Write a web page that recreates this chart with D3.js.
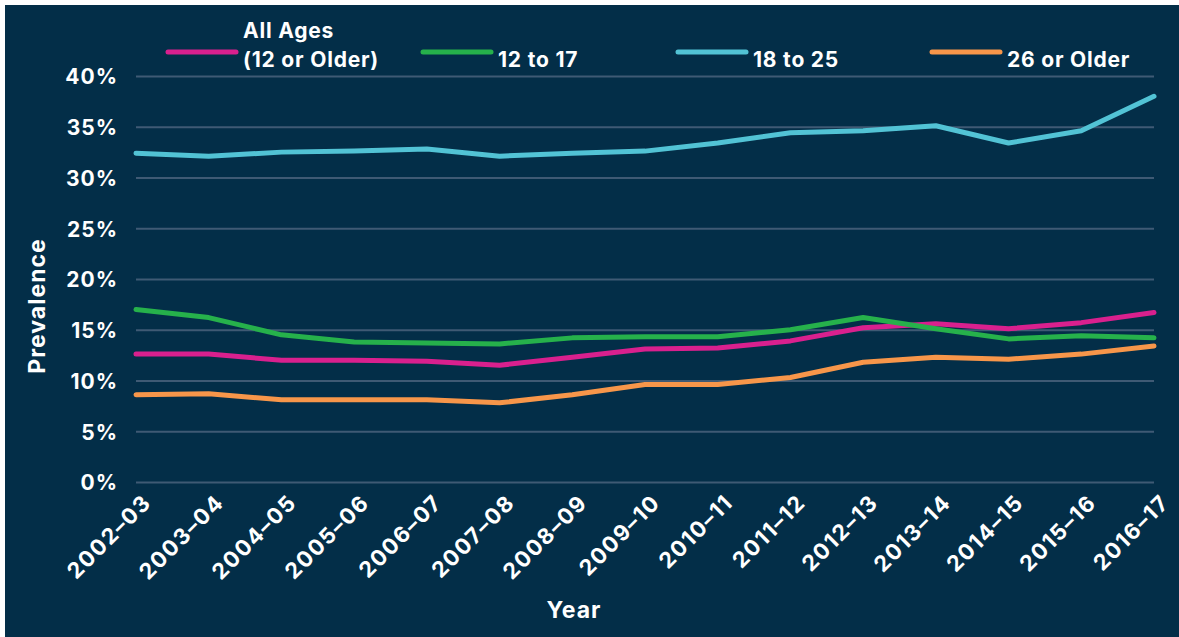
<!DOCTYPE html>
<html>
<head>
<meta charset="utf-8">
<script src="https://cdn.jsdelivr.net/npm/d3@7"></script>
<style>
  html, body { margin: 0; padding: 0; background: #fff; }
  svg { display: block; }
  text { font-family: "Inter", "DejaVu Sans", sans-serif; font-weight: 700; fill: #fff; }
</style>
</head>
<body>
<svg id="chart"></svg>
<script>
// variables
const WIDTH = 1179;
const HEIGHT = 637;
const BG = "#032e48";
const GRID = "#3f5a74";

// data
const years = ["2002–03", "2003–04", "2004–05", "2005–06", "2006–07", "2007–08", "2008–09",
  "2009–10", "2010–11", "2011–12", "2012–13", "2013–14", "2014–15", "2015–16", "2016–17"];
const allAges = [12.6, 12.6, 12.0, 12.0, 11.9, 11.5, 12.3, 13.1, 13.2, 13.9, 15.2, 15.6, 15.1, 15.7, 16.7];
const age12to17 = [17.0, 16.2, 14.5, 13.8, 13.7, 13.6, 14.2, 14.3, 14.3, 15.0, 16.2, 15.1, 14.1, 14.4, 14.2];
const age18to25 = [32.4, 32.1, 32.5, 32.6, 32.8, 32.1, 32.4, 32.6, 33.4, 34.4, 34.6, 35.1, 33.4, 34.6, 38.0];
const age26plus = [8.6, 8.7, 8.1, 8.1, 8.1, 7.8, 8.6, 9.6, 9.6, 10.3, 11.8, 12.3, 12.1, 12.6, 13.4];
const yTicks = [0, 5, 10, 15, 20, 25, 30, 35, 40];

const seriesNames = ["All Ages", "12 to 17", "18 to 25", "26 or Older"];
const seriesColors = ["#d9208e", "#26b14b", "#52c3d5", "#f7964a"];
const seriesValues = [allAges, age12to17, age18to25, age26plus];

const svg = d3.select("#chart").attr("width", WIDTH).attr("height", HEIGHT);

// dark panel inside a thin white frame
svg.append("rect")
  .attr("x", 5).attr("y", 5)
  .attr("width", WIDTH - 5).attr("height", HEIGHT - 5)
  .attr("fill", BG);

const x = d3.scalePoint().domain(years).range([136, 1154]);
const y = d3.scaleLinear().domain([0, 40]).range([482, 76]);

// gridlines + y labels
const yAxis = svg.append("g")
  .attr("transform", "translate(136,0)")
  .call(d3.axisLeft(y).tickValues(yTicks).tickSize(-(1154 - 136)).tickPadding(18).tickFormat(d => d + "%"));
yAxis.select(".domain").remove();
yAxis.selectAll(".tick line").attr("stroke", GRID).attr("stroke-width", 2);
yAxis.selectAll(".tick text")
  .attr("font-size", 21)
  .attr("letter-spacing", 1)
  .attr("dy", "0.38em")
  .attr("font-family", null)
  .attr("fill", "#fff");

// x labels
const xAxis = svg.append("g")
  .attr("transform", "translate(0,482)")
  .call(d3.axisBottom(x).tickSize(0).tickPadding(0));
xAxis.select(".domain").remove();
xAxis.selectAll(".tick text")
  .attr("font-size", 22)
  .attr("letter-spacing", 1.5)
  .attr("font-family", null)
  .attr("fill", "#fff")
  .attr("text-anchor", "end")
  .attr("dy", null)
  .attr("y", 0)
  .attr("transform", "translate(16,22) rotate(-45)");

// lines
const line = d3.line()
  .x((d, i) => x(years[i]))
  .y(d => y(d));

svg.append("g")
  .selectAll("path")
  .data(seriesValues)
  .enter()
  .append("path")
  .attr("d", line)
  .attr("fill", "none")
  .attr("stroke", (d, i) => seriesColors[i])
  .attr("stroke-width", 5)
  .attr("stroke-linecap", "round")
  .attr("stroke-linejoin", "round");

// axis titles
svg.append("text")
  .attr("transform", "translate(45,306) rotate(-90)")
  .attr("text-anchor", "middle")
  .attr("font-size", 23)
  .attr("letter-spacing", 1)
  .text("Prevalence");

svg.append("text")
  .attr("x", 574).attr("y", 618)
  .attr("text-anchor", "middle")
  .attr("font-size", 23)
  .attr("letter-spacing", 1)
  .text("Year");

// legend
const legendX = [168, 423, 678, 932];
const legend = svg.append("g");
legendX.forEach((lx, i) => {
  legend.append("line")
    .attr("x1", lx).attr("x2", lx + 68)
    .attr("y1", 52).attr("y2", 52)
    .attr("stroke", seriesColors[i])
    .attr("stroke-width", 5)
    .attr("stroke-linecap", "round");
  const t = legend.append("text")
    .attr("x", lx + 75)
    .attr("font-size", 21)
    .attr("letter-spacing", 0.8);
  if (i === 0) {
    t.append("tspan").attr("x", lx + 75).attr("y", 38).text("All Ages");
    t.append("tspan").attr("x", lx + 75).attr("y", 67).text("(12 or Older)");
  } else {
    t.attr("y", 67).text(seriesNames[i]);
  }
});
</script>
</body>
</html>
